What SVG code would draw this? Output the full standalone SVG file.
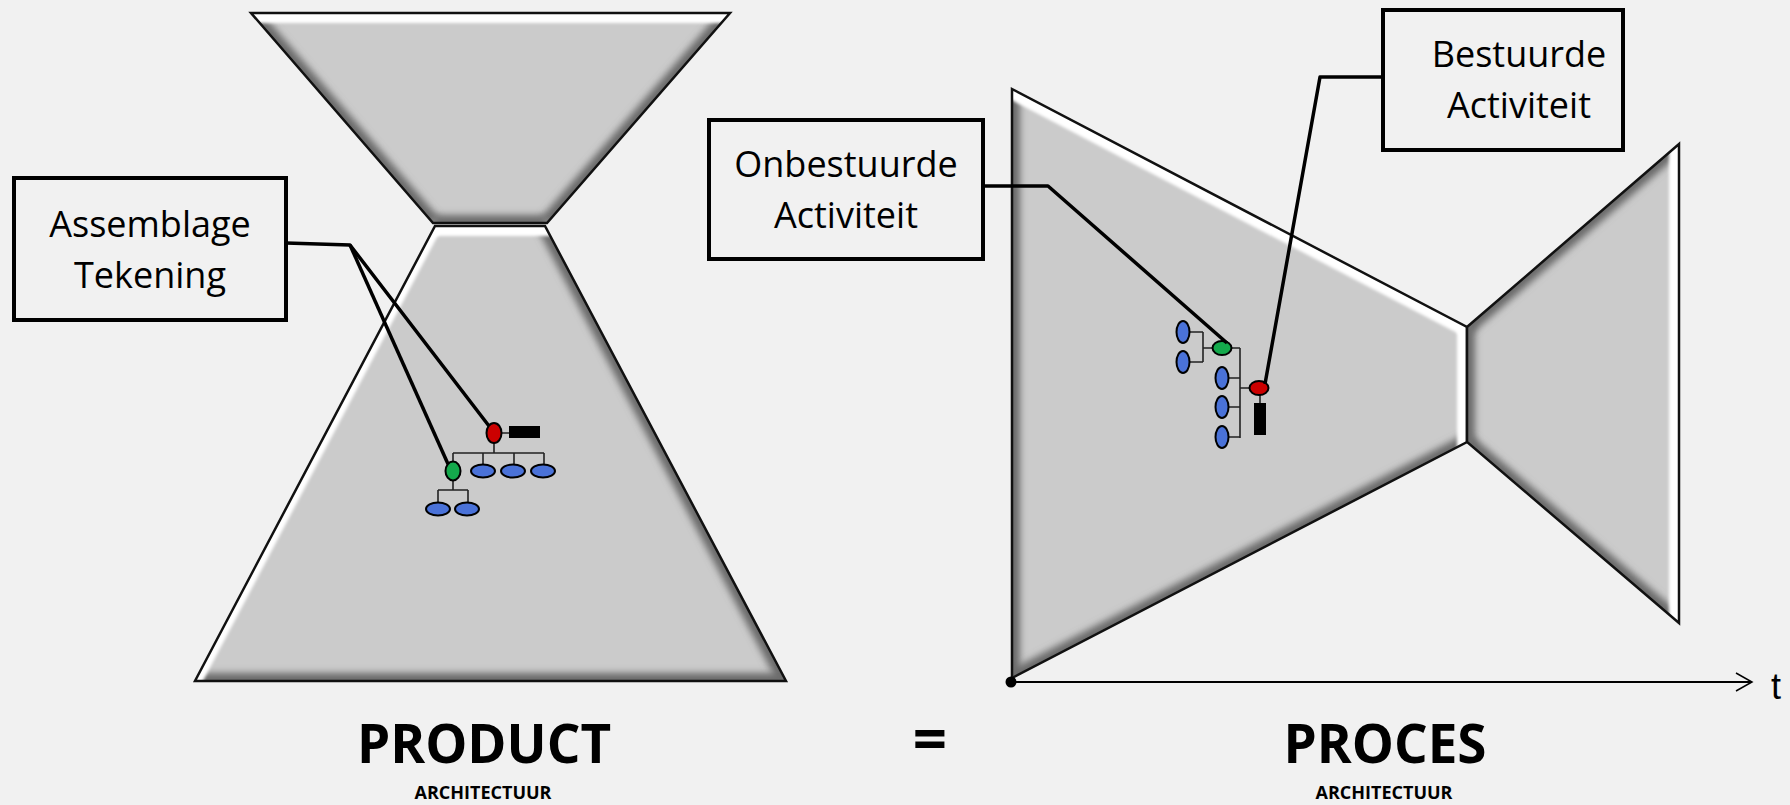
<svg xmlns="http://www.w3.org/2000/svg" width="1790" height="805" viewBox="0 0 1790 805">
<defs>
<style>
.bg{fill:#f1f1f1}
.fillp{fill:#cbcbcb}
.outline{fill:none;stroke:#111;stroke-width:2.5;stroke-linejoin:miter}
.hi{stroke:#ffffff;stroke-width:20;fill:none;filter:url(#b1)}
.sh{stroke:#6a6a6a;stroke-width:16;fill:none;filter:url(#b2)}
.box{fill:#f1f1f1;stroke:#000;stroke-width:4}
.lbl{font-family:"Open Sans","Noto Sans",sans-serif;font-size:36px;fill:#000;text-anchor:middle}
.title{font-family:"Open Sans","Noto Sans",sans-serif;font-weight:bold;font-size:53px;fill:#000;text-anchor:middle}
.sub{font-family:"Open Sans","Noto Sans",sans-serif;font-weight:bold;font-size:18px;fill:#000;text-anchor:middle}
.lead{fill:none;stroke:#000;stroke-width:3.5;stroke-linejoin:round}
.tree{fill:none;stroke:#222;stroke-width:1.6}
.blue{fill:#4a72d8;stroke:#000;stroke-width:2}
.green{fill:#14a94c;stroke:#000;stroke-width:2}
.red{fill:#cc0000;stroke:#000;stroke-width:2}
</style>
<filter id="b1" filterUnits="userSpaceOnUse" x="0" y="0" width="1790" height="805"><feGaussianBlur stdDeviation="1.5"/></filter>
<filter id="b2" filterUnits="userSpaceOnUse" x="0" y="0" width="1790" height="805"><feGaussianBlur stdDeviation="3.5"/></filter>
<clipPath id="c1"><polygon points="251,13 730,13 547,223 433,223"/></clipPath>
<clipPath id="c2"><polygon points="435,226 545,226 786,681 195,681"/></clipPath>
<clipPath id="c3"><polygon points="1012,89 1467,327 1467,442 1012,678"/></clipPath>
<clipPath id="c4"><polygon points="1467,327 1679,144 1679,623 1467,442"/></clipPath>
<marker id="arr" markerWidth="20" markerHeight="20" refX="17" refY="10" orient="auto" markerUnits="userSpaceOnUse"><path d="M1,1 L17,10 L1,19" fill="none" stroke="#000" stroke-width="1.5"/></marker>
</defs>
<rect class="bg" x="0" y="0" width="1790" height="805"/>

<g id="product-top">
<polygon class="fillp" points="251,13 730,13 547,223 433,223"/>
<g clip-path="url(#c1)">
<line class="sh" x1="251" y1="13" x2="433" y2="223"/>
<line class="sh" x1="730" y1="13" x2="547" y2="223"/>
<line class="sh" x1="433" y1="223" x2="547" y2="223"/>
<line class="hi" x1="240" y1="13" x2="740" y2="13"/>
</g>
<polygon class="outline" points="251,13 730,13 547,223 433,223"/>
</g>

<g id="product-bottom">
<polygon class="fillp" points="435,226 545,226 786,681 195,681"/>
<g clip-path="url(#c2)">
<line class="sh" x1="545" y1="226" x2="786" y2="681"/>
<line class="sh" x1="195" y1="681" x2="786" y2="681"/>
<line class="hi" x1="435" y1="226" x2="195" y2="681" style="stroke-width:14"/>
<line class="hi" x1="425" y1="226" x2="555" y2="226"/>
</g>
<polygon class="outline" points="435,226 545,226 786,681 195,681"/>
</g>

<g id="process-left">
<polygon class="fillp" points="1012,89 1467,327 1467,442 1012,678"/>
<g clip-path="url(#c3)">
<line class="sh" x1="1012" y1="80" x2="1012" y2="690"/>
<line class="sh" x1="1012" y1="678" x2="1467" y2="442"/>
<line class="hi" x1="1012" y1="89" x2="1467" y2="327"/>
<line class="hi" x1="1467" y1="320" x2="1467" y2="450"/>
</g>
<polygon class="outline" points="1012,89 1467,327 1467,442 1012,678"/>
</g>

<g id="process-right">
<polygon class="fillp" points="1467,327 1679,144 1679,623 1467,442"/>
<g clip-path="url(#c4)">
<line class="sh" x1="1467" y1="320" x2="1467" y2="450"/>
<line class="sh" x1="1467" y1="327" x2="1679" y2="144"/>
<line class="sh" x1="1467" y1="442" x2="1679" y2="623"/>
<line class="hi" x1="1679" y1="135" x2="1679" y2="630"/>
</g>
<polygon class="outline" points="1467,327 1679,144 1679,623 1467,442"/>
</g>

<g id="product-tree">
<path class="tree" d="M494,443 V453 M453,453 H544 M453,453 V462 M483,453 V465 M514,453 V465 M544,453 V465 M501,433 H509 M453,480 V490 M438,490 H468 M438,490 V503 M468,490 V503"/>
<rect x="509" y="426" width="31" height="12" fill="#000"/>
<ellipse class="red" cx="494" cy="433" rx="7.5" ry="10"/>
<ellipse class="green" cx="453" cy="471" rx="7.5" ry="9.5"/>
<ellipse class="blue" cx="483" cy="471" rx="12" ry="6.5"/>
<ellipse class="blue" cx="513" cy="471" rx="12" ry="6.5"/>
<ellipse class="blue" cx="543" cy="471" rx="12" ry="6.5"/>
<ellipse class="blue" cx="438" cy="509" rx="12" ry="6.5"/>
<ellipse class="blue" cx="467" cy="509" rx="12" ry="6.5"/>
</g>

<g id="process-tree">
<path class="tree" d="M1189,332 H1203 M1189,362 H1203 M1203,332 V362 M1203,348 H1213 M1231,348 H1240 M1240,348 V438 M1228,378 H1240 M1228,407 H1240 M1228,437 H1240 M1240,388 H1250 M1260,395 V403"/>
<rect x="1254" y="403" width="12" height="32" fill="#000"/>
<ellipse class="blue" cx="1183" cy="332" rx="6.5" ry="11"/>
<ellipse class="blue" cx="1183" cy="362" rx="6.5" ry="11"/>
<ellipse class="green" cx="1222" cy="348" rx="9.5" ry="7"/>
<ellipse class="blue" cx="1222" cy="378" rx="6.5" ry="11"/>
<ellipse class="blue" cx="1222" cy="407" rx="6.5" ry="11"/>
<ellipse class="blue" cx="1222" cy="437" rx="6.5" ry="11"/>
<ellipse class="red" cx="1259" cy="388" rx="9.5" ry="7"/>
</g>

<g id="connectors">
<polyline class="lead" points="286,243 350,245 489,426"/>
<polyline class="lead" points="350,245 448,464"/>
<polyline class="lead" points="983,186 1048,186 1227,343"/>
<polyline class="lead" points="1383,77 1320,77 1265,384"/>
<line x1="1011" y1="682" x2="1752" y2="682" stroke="#000" stroke-width="1.8" marker-end="url(#arr)"/>
<circle cx="1011" cy="682" r="5.5" fill="#000"/>
</g>

<g id="box-assemblage">
<rect class="box" x="14" y="178" width="272" height="142"/>
<text class="lbl" x="150" y="237">Assemblage</text>
<text class="lbl" x="150" y="288">Tekening</text>
</g>

<g id="box-onbestuurde">
<rect class="box" x="709" y="120" width="274" height="139"/>
<text class="lbl" x="846" y="177">Onbestuurde</text>
<text class="lbl" x="846" y="228">Activiteit</text>
</g>

<g id="box-bestuurde">
<rect class="box" x="1383" y="10" width="240" height="140"/>
<text class="lbl" x="1519" y="67">Bestuurde</text>
<text class="lbl" x="1519" y="118">Activiteit</text>
</g>

<g id="titles">
<text class="title" x="484" y="763">PRODUCT</text>
<text class="sub" x="483" y="799">ARCHITECTUUR</text>
<text class="title" x="930" y="760" style="font-size:60px">=</text>
<text class="title" x="1385" y="763">PROCES</text>
<text class="sub" x="1384" y="799">ARCHITECTUUR</text>
<text x="1771" y="699" style="font-family:'Liberation Sans',Arial,sans-serif;font-size:36px;fill:#000">t</text>
</g>
</svg>
